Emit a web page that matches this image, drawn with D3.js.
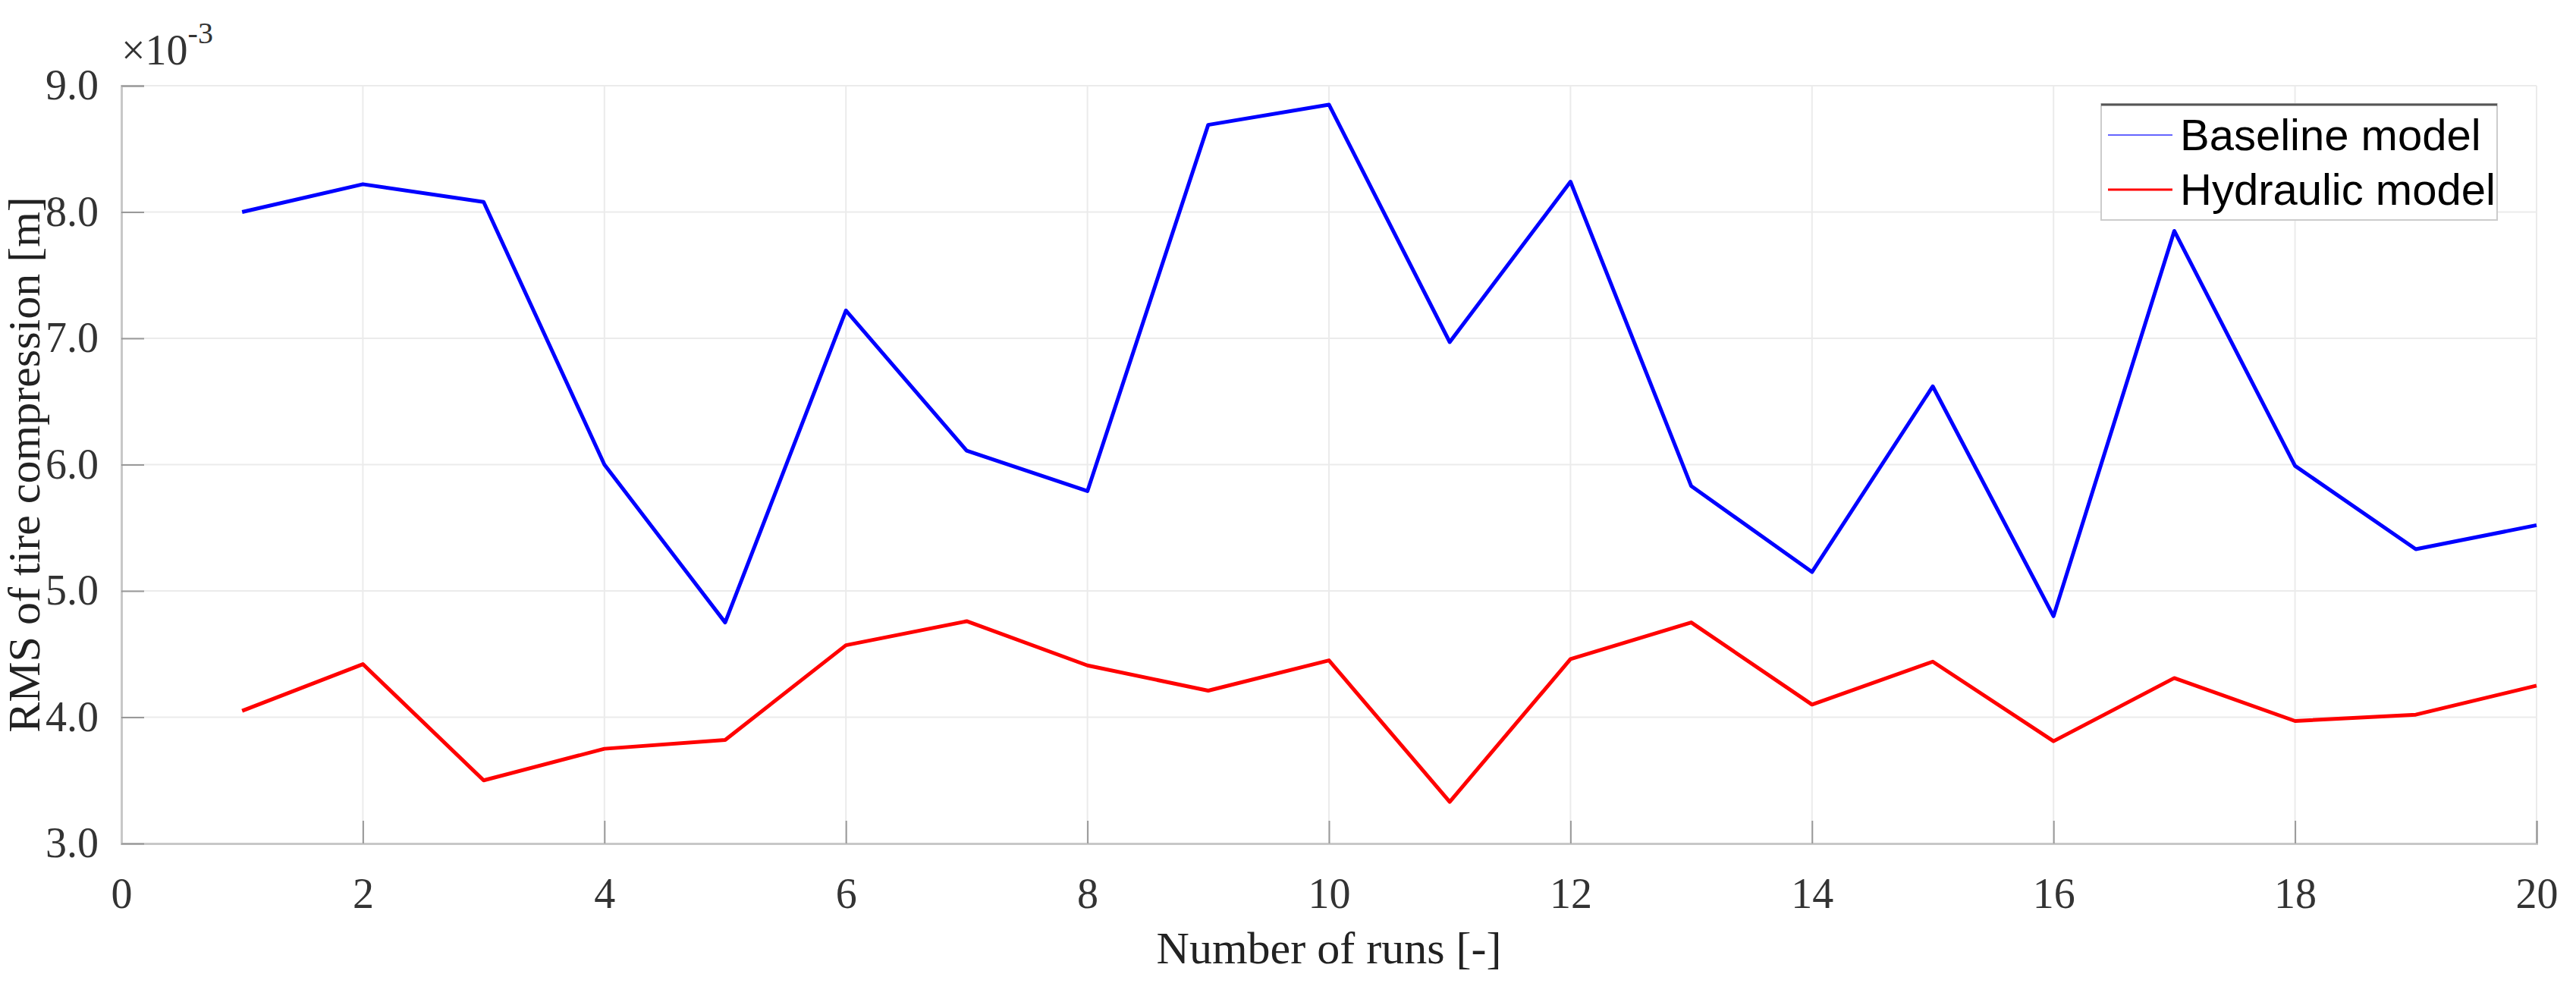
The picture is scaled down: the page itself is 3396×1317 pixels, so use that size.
<!DOCTYPE html>
<html><head><meta charset="utf-8">
<script src="https://cdn.jsdelivr.net/npm/d3@7"></script>
<style>body{margin:0;background:#fff}</style></head>
<body><svg id="c" width="3396" height="1317"></svg>
<script>
const runs = d3.range(1, 21);
const baseline = [8.0,8.22,8.08,6.0,4.75,7.22,6.11,5.79,8.69,8.85,6.97,8.24,5.83,5.15,6.62,4.80,7.85,5.99,5.33,5.52];
const hydraulic = [4.05,4.42,3.50,3.75,3.82,4.57,4.76,4.41,4.21,4.45,3.33,4.46,4.75,4.10,4.44,3.81,4.31,3.97,4.02,4.25];
const xTicks = [0,2,4,6,8,10,12,14,16,18,20];
const yTicks = [3,4,5,6,7,8,9];
const seriesNames = ["Baseline model","Hydraulic model"];
const colors = ["#0000ff","#ff0000"];

const L=160,R=3344,T=113,B=1112;
const svg=d3.select("#c");
const x=d3.scaleLinear().domain([0,20]).range([L,R]);
const y=d3.scaleLinear().domain([3,9]).range([B,T]);
const serif="'Liberation Serif','DejaVu Serif',serif";

// grid
svg.append("g").selectAll("line").data(xTicks).join("line")
 .attr("x1",d=>x(d)).attr("x2",d=>x(d)).attr("y1",T).attr("y2",B)
 .attr("stroke","#ebebeb").attr("stroke-width",2);
svg.append("g").selectAll("line").data(yTicks).join("line")
 .attr("y1",d=>y(d)).attr("y2",d=>y(d)).attr("x1",L).attr("x2",R)
 .attr("stroke","#ebebeb").attr("stroke-width",2);

// axes
const xa=svg.append("g").attr("transform",`translate(0,${B})`)
 .call(d3.axisBottom(x).tickValues(xTicks).tickSize(-30).tickPadding(45));
const ya=svg.append("g").attr("transform",`translate(${L},0)`)
 .call(d3.axisLeft(y).tickValues(yTicks).tickSize(-30).tickPadding(30));
[xa,ya].forEach(a=>{
 a.select(".domain").attr("stroke","#c8c8c8").attr("stroke-width",3);
 a.selectAll(".tick line").attr("stroke","#999").attr("stroke-width",2);
 a.selectAll("text").attr("font-family",serif).attr("font-size",56).attr("fill","#333");
});

// lines
const line=d3.line().x((d,i)=>x(runs[i])).y(d=>y(d));
[baseline,hydraulic].forEach((s,k)=>{
 svg.append("path").datum(s).attr("d",line).attr("fill","none")
  .attr("stroke",colors[k]).attr("stroke-width",5).attr("stroke-linejoin","round");
});

// exponent
const ex=svg.append("text").attr("x",160).attr("y",85).attr("font-family",serif)
 .attr("font-size",56).attr("fill","#333");
ex.append("tspan").text("×10");
ex.append("tspan").attr("dy",-28).attr("font-size",40).text("-3");

// axis labels
svg.append("text").attr("x",(L+R)/2).attr("y",1270).attr("text-anchor","middle")
 .attr("font-family",serif).attr("font-size",60).attr("fill","#222").text("Number of runs [-]");
svg.append("text").attr("transform",`translate(52,${(T+B)/2}) rotate(-90)`).attr("text-anchor","middle")
 .attr("font-family",serif).attr("font-size",60).attr("fill","#222").text("RMS of tire compression [m]");

// legend
const lg=svg.append("g");
lg.append("rect").attr("x",2770).attr("y",137).attr("width",522).attr("height",153)
 .attr("fill","#fff").attr("stroke","#ccc").attr("stroke-width",2);
lg.append("line").attr("x1",2770).attr("x2",3292).attr("y1",138).attr("y2",138).attr("stroke","#555").attr("stroke-width",3);
seriesNames.forEach((n,k)=>{
 const yy=178+k*72;
 lg.append("line").attr("x1",2779).attr("x2",2864).attr("y1",yy).attr("y2",yy)
  .attr("stroke",colors[k]).attr("stroke-width",k?3:2).attr("opacity",k?1:0.6);
 lg.append("text").attr("x",2874).attr("y",yy+20).attr("font-family","'Liberation Sans',Arial,sans-serif")
  .attr("font-size",58).attr("fill","#000").text(n);
});
</script></body></html>
